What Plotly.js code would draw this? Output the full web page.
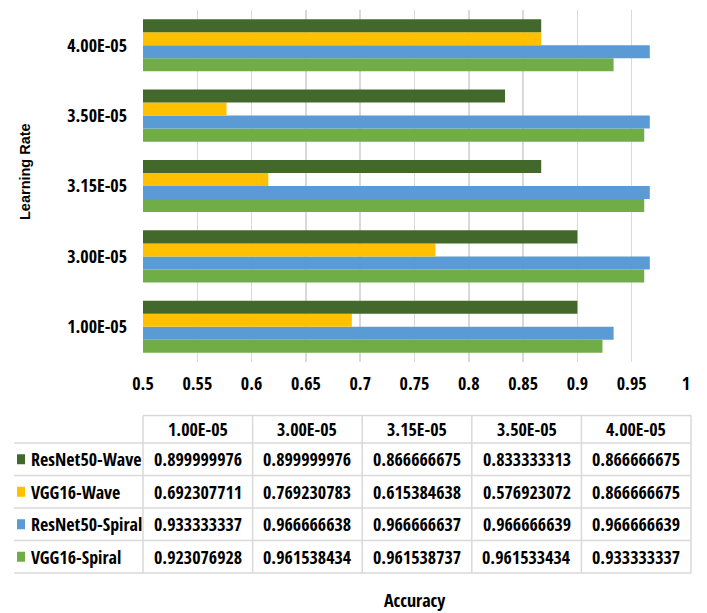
<!DOCTYPE html>
<html>
<head>
<meta charset="utf-8">
<script src="https://cdn.plot.ly/plotly-3.0.1.min.js"></script>
<style>html,body{margin:0;padding:0;background:#fff;}#chart{width:707px;height:613px;}</style>
</head>
<body>
<div id="chart"></div>
<script>
// ---- data ----
const learningRates = ["1.00E-05", "3.00E-05", "3.15E-05", "3.50E-05", "4.00E-05"];
const seriesNames = ["ResNet50-Wave", "VGG16-Wave", "ResNet50-Spiral", "VGG16-Spiral"];
const resnet50Wave   = [0.899999976, 0.899999976, 0.866666675, 0.833333313, 0.866666675];
const vgg16Wave      = [0.692307711, 0.769230783, 0.615384638, 0.576923072, 0.866666675];
const resnet50Spiral = [0.933333337, 0.966666638, 0.966666637, 0.966666639, 0.966666639];
const vgg16Spiral    = [0.923076928, 0.961538434, 0.961538737, 0.961533434, 0.933333337];
const seriesColors = ["#43682B", "#FFC000", "#5B9BD5", "#70AD47"];
const xTicks = [0.5, 0.55, 0.6, 0.65, 0.7, 0.75, 0.8, 0.85, 0.9, 0.95, 1];
const xTickText = ["0.5", "0.55", "0.6", "0.65", "0.7", "0.75", "0.8", "0.85", "0.9", "0.95", "1"];
const allSeries = [resnet50Wave, vgg16Wave, resnet50Spiral, vgg16Spiral];

// ---- layout geometry (pixels) ----
const W = 707, H = 613;
const PL = 143, PR = 686, PT = 10, PB = 362;
const px = x => (x - PL) / (PR - PL);
const py = y => (PB - y) / (PB - PT);
const NARROW = "Open Sans Condensed, Roboto Condensed, sans-serif";
const GRID = "#D9D9D9";

// traces: reversed so ResNet50-Wave sits on top of each group
const traces = [];
for (let i = seriesNames.length - 1; i >= 0; i--) {
  traces.push({
    type: "bar",
    orientation: "h",
    name: seriesNames[i],
    y: learningRates,
    x: allSeries[i],
    marker: {color: seriesColors[i]},
    hoverinfo: "x+y+name"
  });
}

// ---- data table below the chart ----
const shapes = [];
const annotations = [];
const tblLeft = 14, tblCol0 = 143, tblRight = 691;
const headTop = 415.5, headBot = 443, rowH = 32.5;
const colW = (tblRight - tblCol0) / learningRates.length;
function hline(x0, x1, y) {
  shapes.push({type: "line", xref: "paper", yref: "paper", x0: px(x0), x1: px(x1), y0: py(y), y1: py(y),
    line: {color: GRID, width: 1.5}});
}
function vline(x, y0, y1) {
  shapes.push({type: "line", xref: "paper", yref: "paper", x0: px(x), x1: px(x), y0: py(y0), y1: py(y1),
    line: {color: GRID, width: 1.5}});
}
hline(tblCol0, tblRight, headTop);
for (let r = 0; r <= seriesNames.length; r++) hline(tblLeft, tblRight, headBot + r * rowH);
const tblBottom = headBot + seriesNames.length * rowH;
for (let c = 0; c <= learningRates.length; c++) vline(tblCol0 + c * colW, headTop, tblBottom);

learningRates.forEach((lr, c) => {
  annotations.push({xref: "paper", yref: "paper", x: px(tblCol0 + (c + 0.5) * colW), y: py((headTop + headBot) / 2),
    text: lr, showarrow: false, xanchor: "center", yanchor: "middle",
    font: {family: NARROW, size: 18, color: "#000", weight: 700}});
});
seriesNames.forEach((name, r) => {
  const cy = headBot + (r + 0.5) * rowH;
  shapes.push({type: "rect", xref: "paper", yref: "paper", x0: px(17), x1: px(25), y0: py(cy - 5), y1: py(cy + 5),
    fillcolor: seriesColors[r], line: {width: 0}});
  annotations.push({xref: "paper", yref: "paper", x: px(29), y: py(cy), text: name, showarrow: false,
    xanchor: "left", yanchor: "middle", font: {family: NARROW, size: 18, color: "#000", weight: 700}});
  allSeries[r].forEach((v, c) => {
    annotations.push({xref: "paper", yref: "paper", x: px(tblCol0 + (c + 0.5) * colW), y: py(cy),
      text: v.toFixed(9), showarrow: false, xanchor: "center", yanchor: "middle",
      font: {family: NARROW, size: 18, color: "#000", weight: 700}});
  });
});

// axis titles
annotations.push({xref: "paper", yref: "paper", x: px(25), y: py(172), text: "Learning Rate", textangle: -90,
  showarrow: false, xanchor: "center", yanchor: "middle",
  font: {family: "Liberation Sans, Arial, sans-serif", size: 14.5, color: "#000", weight: 700}});
annotations.push({xref: "paper", yref: "paper", x: px(415), y: py(600), text: "Accuracy",
  showarrow: false, xanchor: "center", yanchor: "middle",
  font: {family: NARROW, size: 18, color: "#000", weight: 700}});

const layout = {
  width: W, height: H,
  margin: {l: PL, r: W - PR, t: PT, b: H - PB, pad: 0},
  paper_bgcolor: "#fff", plot_bgcolor: "#fff",
  barmode: "group", bargap: 0.26, bargroupgap: 0,
  showlegend: false,
  xaxis: {
    range: [0.5, 1], tickvals: xTicks, ticktext: xTickText,
    showgrid: true, gridcolor: GRID, gridwidth: 1.5, zeroline: false, showline: false,
    ticks: "", ticklabelstandoff: 9,
    tickfont: {family: NARROW, size: 18, color: "#000", weight: 700},
    fixedrange: true
  },
  yaxis: {
    type: "category", categoryorder: "array", categoryarray: learningRates,
    showgrid: false, zeroline: false, showline: false, ticks: "",
    ticklabelstandoff: 15,
    tickfont: {family: NARROW, size: 18, color: "#000", weight: 700},
    fixedrange: true
  },
  shapes: shapes,
  annotations: annotations
};

Plotly.newPlot("chart", traces, layout, {displayModeBar: false, staticPlot: true});
</script>
</body>
</html>
